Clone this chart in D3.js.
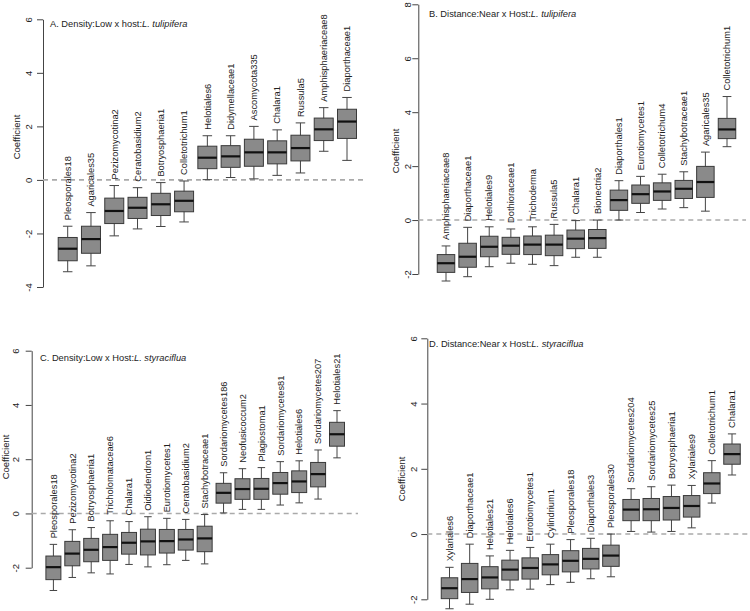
<!DOCTYPE html>
<html>
<head>
<meta charset="utf-8">
<script src="https://cdn.jsdelivr.net/npm/d3@7"></script>
<style>
  body { margin: 0; background: #fff; }
  text { font-family: "Liberation Sans", Arial, sans-serif; fill: #222; }
</style>
</head>
<body>
<svg id="chart" width="750" height="611"></svg>
<script>
// each stats row: [lower whisker, q1, median, q3, upper whisker]
var catsA = ["Pleosporales18","Agaricales35","Pezizomycotina2","Ceratobasidium2","Botryosphaeria1","Colletotrichum1",
             "Helotiales6","Didymellaceae1","Ascomycota335","Chalara1","Russula5","Amphisphaeriaceae8","Diaporthaceae1"]
var statsA = [[-3.43,-3.02,-2.57,-2.15,-1.73],[-3.21,-2.74,-2.21,-1.73,-1.22],[-2.09,-1.63,-1.16,-0.68,-0.21],
              [-1.83,-1.44,-1.04,-0.65,-0.29],[-1.74,-1.33,-0.91,-0.50,-0.10],[-1.57,-1.19,-0.78,-0.42,-0.04],
              [0.01,0.42,0.83,1.26,1.65],[0.09,0.47,0.88,1.28,1.65],[0.04,0.51,1.03,1.52,2.00],
              [0.17,0.60,1.03,1.46,1.87],[0.26,0.71,1.19,1.67,2.13],[1.07,1.47,1.89,2.31,2.70],[0.73,1.55,2.18,2.64,3.08]]
var ticksA = [-4,-2,0,2,4,6]

var catsB = ["Amphisphaeriaceae8","Diaporthaceae1","Helotiales9","Dothioraceae1","Trichoderma","Russula5","Chalara1",
             "Bionectria2","Diaporthales1","Eurotiomycetes1","Colletotrichum4","Stachybotraceae1","Agaricales35","Colletotrichum1"]
var statsB = [[-2.26,-1.94,-1.60,-1.28,-0.96],[-2.10,-1.75,-1.36,-0.86,-0.27],[-1.73,-1.36,-0.99,-0.60,-0.25],
              [-1.60,-1.27,-0.95,-0.64,-0.33],[-1.64,-1.28,-0.91,-0.59,-0.25],[-1.69,-1.32,-0.91,-0.56,-0.16],
              [-1.38,-1.06,-0.69,-0.37,-0.02],[-1.38,-1.05,-0.67,-0.35,0.00],[0.00,0.36,0.74,1.11,1.46],
              [0.28,0.62,0.96,1.30,1.62],[0.41,0.73,1.06,1.38,1.70],[0.46,0.80,1.16,1.47,1.79],
              [0.33,0.84,1.41,1.99,2.52],[2.72,3.02,3.36,3.77,4.58]]
var ticksB = [-2,0,2,4,6,8]

var catsC = ["Pleosporales18","Pezizomycotina2","Botryosphaeria1","Tricholomataceae6","Chalara1","Oidiodendron1",
             "Eurotiomycetes1","Ceratobasidium2","Stachybotraceae1","Sordariomycetes186","Neofusicoccum2","Plagiostoma1",
             "Sordariomycetes81","Helotiales6","Sordariomycetes207","Helotiales21"]
var statsC = [[-2.84,-2.44,-1.98,-1.57,-1.14],[-2.36,-1.93,-1.48,-1.03,-0.60],[-2.19,-1.78,-1.34,-0.92,-0.52],
              [-2.23,-1.73,-1.24,-0.77,-0.27],[-1.88,-1.50,-1.08,-0.70,-0.30],[-1.97,-1.53,-1.03,-0.58,-0.12],
              [-1.89,-1.46,-1.02,-0.59,-0.18],[-1.73,-1.35,-0.96,-0.59,-0.22],[-1.86,-1.41,-0.92,-0.47,-0.04],
              [0.02,0.38,0.76,1.11,1.50],[0.15,0.52,0.90,1.28,1.65],[0.15,0.52,0.91,1.29,1.69],
              [0.31,0.71,1.12,1.51,1.91],[0.39,0.77,1.18,1.57,1.94],[0.53,0.98,1.45,1.88,2.34],[2.05,2.48,2.92,3.36,3.79]]
var ticksC = [-2,0,2,4,6]

var catsD = ["Xylariales6","Diaporthaceae1","Helotiales21","Helotiales6","Eurotiomycetes1","Cylindrium1","Pleosporales18",
             "Diaporthales3","Pleosporales30","Sordariomycetes204","Sordariomycetes25","Botryosphaeria1","Xylariales9",
             "Colletotrichum1","Chalara1"]
var statsD = [[-2.29,-1.98,-1.66,-1.34,-1.02],[-2.15,-1.79,-1.38,-0.90,-0.31],[-2.00,-1.68,-1.33,-1.00,-0.67],
              [-1.71,-1.41,-1.09,-0.80,-0.50],[-1.69,-1.38,-1.04,-0.73,-0.41],[-1.55,-1.25,-0.93,-0.63,-0.31],
              [-1.48,-1.16,-0.82,-0.51,-0.17],[-1.37,-1.07,-0.76,-0.44,-0.13],[-1.31,-0.99,-0.66,-0.34,0.00],
              [0.08,0.41,0.75,1.06,1.39],[0.06,0.41,0.76,1.09,1.45],[0.08,0.43,0.80,1.15,1.50],
              [0.19,0.52,0.86,1.18,1.49],[0.95,1.24,1.55,1.88,2.25],[1.81,2.14,2.45,2.76,3.07]]
var ticksD = [-2,0,2,4,6]

var panels = [
  {cats: catsA, stats: statsA, ticks: ticksA, pre: "A. Density:Low x host:", ital: "L. tulipifera",
   axisX: 43, yTop: 19.3, yBot: 287, x0: 67.7, x1: 347, boxW: 19, lineEnd: 367,
   tickLabX: 29, ylabX: 17, ylabY: 137, titleX: 50, titleY: 27},
  {cats: catsB, stats: statsB, ticks: ticksB, pre: "B. Distance:Near x Host:", ital: "L. tulipifera",
   axisX: 418.3, yTop: 4.3, yBot: 274, x0: 446, x1: 727, boxW: 17.5, lineEnd: 746,
   tickLabX: 408, ylabX: 396, ylabY: 151, titleX: 429, titleY: 17},
  {cats: catsC, stats: statsC, ticks: ticksC, pre: "C. Density:Low x Host:", ital: "L. styraciflua",
   axisX: 31.7, yTop: 350.7, yBot: 567.7, x0: 53.4, x1: 337, boxW: 15, lineEnd: 358,
   tickLabX: 16, ylabX: 6, ylabY: 457, titleX: 40, titleY: 361},
  {cats: catsD, stats: statsD, ticks: ticksD, pre: "D. Distance:Near x Host:", ital: "L. styraciflua",
   axisX: 427.3, yTop: 338.3, yBot: 599.3, x0: 449.5, x1: 732, boxW: 16.5, lineEnd: 750,
   tickLabX: 414, ylabX: 402, ylabY: 479, titleX: 429, titleY: 347}
]

var svg = d3.select("#chart")

panels.forEach(function(p){
    var g = svg.append("g")

    var yScale = d3.scaleLinear()
                   .domain([p.ticks[0], p.ticks[p.ticks.length-1]])
                   .range([p.yBot, p.yTop])

    var xScale = d3.scalePoint()
                   .domain(p.cats)
                   .range([p.x0, p.x1])

    // y axis, R style: rotated tick labels
    var yAxisGen = d3.axisLeft(yScale).tickValues(p.ticks).tickSize(6).tickSizeOuter(0)
                     .tickFormat(function(d){ return String(d) })
    var yAxis = g.append("g")
                 .attr("transform", `translate(${p.axisX},0)`)
                 .call(yAxisGen)
    yAxis.selectAll("path, line").attr("stroke", "#444").attr("stroke-width", 1)
    yAxis.selectAll("text")
         .attr("x", null).attr("dy", null)
         .attr("transform", `translate(${p.tickLabX - p.axisX},0) rotate(-90)`)
         .attr("text-anchor", "middle")
         .attr("dy", "0.35em")
         .style("font-size", "9.5px")
         .style("font-family", "'Liberation Sans', Arial, sans-serif")
         .attr("fill", "#222")

    g.append("text")
     .attr("transform", `translate(${p.ylabX},${p.ylabY}) rotate(-90)`)
     .attr("text-anchor", "middle")
     .attr("dy", "0.35em")
     .style("font-size", "9.5px")
     .text("Coefficient")

    // zero reference line
    g.append("line")
     .attr("x1", p.axisX).attr("x2", p.lineEnd)
     .attr("y1", yScale(0)).attr("y2", yScale(0))
     .attr("stroke", "#aaa").attr("stroke-width", 1.6)
     .attr("stroke-dasharray", "5,4")

    var title = g.append("text")
                 .attr("x", p.titleX).attr("y", p.titleY)
                 .style("font-size", "9.3px")
    title.append("tspan").text(p.pre)
    title.append("tspan").style("font-style", "italic").text(p.ital)

    var boxes = g.selectAll("g.box")
                 .data(p.stats)
                 .enter()
                 .append("g")
                 .attr("class", "box")

    var hw = p.boxW / 2
    var cw = p.boxW / 4

    boxes.append("line")
         .attr("x1", (d,i) => xScale(p.cats[i])).attr("x2", (d,i) => xScale(p.cats[i]))
         .attr("y1", d => yScale(d[0])).attr("y2", d => yScale(d[4]))
         .attr("stroke", "#444").attr("stroke-width", 1)
    boxes.append("line")
         .attr("x1", (d,i) => xScale(p.cats[i]) - cw).attr("x2", (d,i) => xScale(p.cats[i]) + cw)
         .attr("y1", d => yScale(d[0])).attr("y2", d => yScale(d[0]))
         .attr("stroke", "#444").attr("stroke-width", 1)
    boxes.append("line")
         .attr("x1", (d,i) => xScale(p.cats[i]) - cw).attr("x2", (d,i) => xScale(p.cats[i]) + cw)
         .attr("y1", d => yScale(d[4])).attr("y2", d => yScale(d[4]))
         .attr("stroke", "#444").attr("stroke-width", 1)
    boxes.append("rect")
         .attr("x", (d,i) => xScale(p.cats[i]) - hw)
         .attr("width", p.boxW)
         .attr("y", d => yScale(d[3]))
         .attr("height", d => yScale(d[1]) - yScale(d[3]))
         .attr("fill", "#8a8a8a")
         .attr("stroke", "#3a3a3a").attr("stroke-width", 1)
    boxes.append("line")
         .attr("x1", (d,i) => xScale(p.cats[i]) - hw).attr("x2", (d,i) => xScale(p.cats[i]) + hw)
         .attr("y1", d => yScale(d[2])).attr("y2", d => yScale(d[2]))
         .attr("stroke", "#111").attr("stroke-width", 2.2)

    // taxon names above upper whisker
    boxes.append("text")
         .attr("transform", (d,i) => `translate(${xScale(p.cats[i])},${yScale(d[4]) - 6}) rotate(-90)`)
         .attr("text-anchor", "start")
         .attr("dy", "0.35em")
         .style("font-size", "9.3px")
         .text((d,i) => p.cats[i])
})
</script>
</body>
</html>
